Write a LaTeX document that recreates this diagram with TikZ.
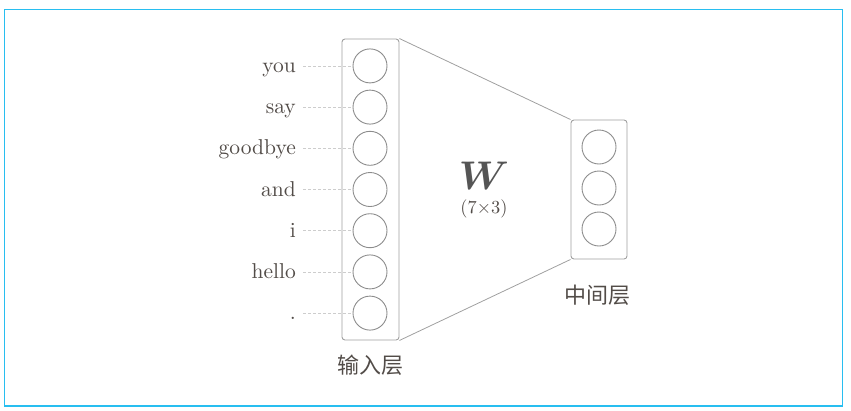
\RequirePackage{fix-cm}
\documentclass[tikz,border=0pt]{standalone}
\usepackage{fontspec}
\usepackage{bm}
\newfontfamily\cjk{Noto Sans CJK SC}
\newfontfamily\wordfont{lmroman10-regular}[Extension=.otf]
\definecolor{framecyan}{RGB}{40,190,240}
\definecolor{txtgray}{RGB}{82,76,72}
\definecolor{linegray}{RGB}{160,160,160}
\definecolor{circgray}{RGB}{140,140,140}
\definecolor{dashgray}{RGB}{205,205,205}
\definecolor{wgray}{RGB}{85,85,85}
\tikzset{
  layerbox/.style={draw=linegray, line width=0.9pt, rounded corners=3pt, inner sep=0pt},
  neuron/.style={draw=circgray, line width=0.9pt, circle, minimum size=34pt, inner sep=0pt},
  word/.style={text=txtgray, inner sep=0pt, anchor=base east, font=\wordfont\fontsize{21.5}{26}\selectfont},
  dashline/.style={draw=dashgray, line width=0.7pt, dash pattern=on 3pt off 2pt},
  conn/.style={draw=linegray, line width=0.8pt},
  cjklabel/.style={text=txtgray, inner sep=0pt, font=\cjk\fontsize{22}{26}\selectfont}
}
\begin{document}
\begin{tikzpicture}[x=1pt,y=-1pt]
\useasboundingbox (0,0) rectangle (851,410);
\draw[framecyan, line width=1.6pt] (4.5,9.5) rectangle (842.5,406);
% layer boxes
\node[layerbox, minimum width=57pt, minimum height=301pt] (inbox) at (370.5,189.5) {};
\node[layerbox, minimum width=56pt, minimum height=139pt] (hidbox) at (599,189.5) {};
% connectors
\draw[conn] (inbox.north east) -- (hidbox.north west);
\draw[conn] (inbox.south east) -- (hidbox.south west);
% input neurons and words
\foreach \k/\w in {0/you,1/say,2/goodbye,3/and,4/i,5/hello,6/.}{
  \node[neuron] (i\k) at (370,{189.5+41.2*(\k-3)}) {};
  \node[word] (w\k) at (296,{196+41.2*(\k-3)}) {\w};
  \draw[dashline] (w\k.east |- i\k.west) ++(7pt,0) -- (i\k.west);
}
% hidden neurons
\foreach \k in {0,1,2}{
  \node[neuron] (h\k) at (599,{188+41*(\k-1)}) {};
}
% weight label
\node[text=wgray, inner sep=0pt, font=\fontsize{40}{46}\selectfont] (W) at (484,176) {$\bm{W}$};
\node[text=txtgray, inner sep=0pt, font=\wordfont\fontsize{18.4}{22}\selectfont] (dim) at (484,209) {(7×3)};
% layer labels
\node[cjklabel] (inlbl) at (370,365) {输入层};
\node[cjklabel] (hidlbl) at (597,295) {中间层};
\end{tikzpicture}
\end{document}
